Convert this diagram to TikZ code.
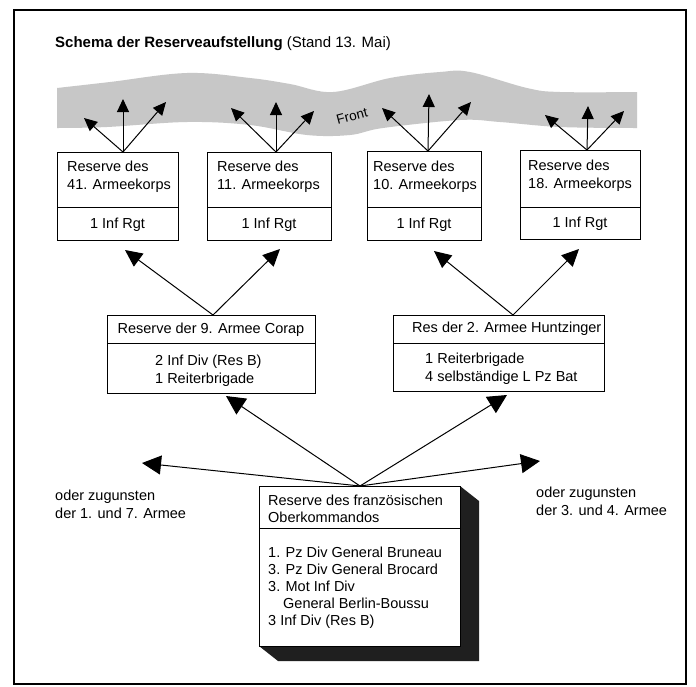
\documentclass[tikz,border=0pt]{standalone}
\usepackage{fontspec}
\setmainfont{Liberation Sans}
\usetikzlibrary{arrows.meta}
\begin{document}
\begin{tikzpicture}[x=1pt,y=-1pt,
  box/.style={draw, line width=1.1pt, rectangle, inner sep=0pt, fill=white, anchor=north west},
  txt/.style={font=\fontsize{14.5}{17.5}\selectfont, inner sep=0pt, anchor=base west},
  ctxt/.style={font=\fontsize{14.5}{17.5}\selectfont, inner sep=0pt, anchor=base},
  divider/.style={line width=1pt},
  smallarr/.style={line width=1pt, -{Triangle[length=13pt,width=12pt]}},
  midarr/.style={line width=1pt, -{Triangle[length=17pt,width=16pt]}},
  bigarr/.style={line width=1pt, -{Triangle[length=19pt,width=19pt]}},
]
\useasboundingbox (0,0) rectangle (696,686);
\fill[white] (0,0) rectangle (696,686);
\draw[line width=1.2pt] (14,10) rectangle (686,684);

% title
\node[anchor=base west, inner sep=0pt, font=\fontsize{15}{18}\selectfont] (title) at (55,47)
  {\textbf{Schema der Reserveaufstellung} (Stand 13. Mai)};

% front band
\fill[black!22] plot[smooth, tension=0.6] coordinates {(57,88) (110,82) (187,73) (250,78) (290,84) (333,92) (390,78) (440,72) (470,72) (527,88) (560,92) (637,92)}
  -- plot[smooth, tension=0.6] coordinates {(637,128) (560,127) (500,122) (460,120) (383,128) (350,135) (307,135) (250,125) (187,122) (107,127) (57,128)} -- cycle;
\node[rotate=15, inner sep=0pt, font=\fontsize{13.5}{16}\selectfont] (front) at (352,116) {Front};

% top row boxes
\node[box, minimum width=121pt, minimum height=88pt] (k41) at (57,152) {};
\node[box, minimum width=124pt, minimum height=88pt] (k11) at (207,152) {};
\node[box, minimum width=114pt, minimum height=89pt] (k10) at (367,151) {};
\node[box, minimum width=120pt, minimum height=89pt] (k18) at (520,150) {};
\foreach \b in {k41,k11,k10,k18} \draw[divider] (\b.west |- 0,207) -- (\b.east |- 0,207);

\node[txt] (k41a) at (67,171.5) {Reserve des};
\node[txt] (k41b) at (67,189.5) {41. Armeekorps};
\node[ctxt] (k41c) at (117.5,228) {1 Inf Rgt};
\node[txt] (k11a) at (217,171.5) {Reserve des};
\node[txt] (k11b) at (217,189.5) {11. Armeekorps};
\node[ctxt] (k11c) at (269,228) {1 Inf Rgt};
\node[txt] (k10a) at (373,171) {Reserve des};
\node[txt] (k10b) at (373,189) {10. Armeekorps};
\node[ctxt] (k10c) at (424,228) {1 Inf Rgt};
\node[txt] (k18a) at (528,170) {Reserve des};
\node[txt] (k18b) at (528,188) {18. Armeekorps};
\node[ctxt] (k18c) at (580,227) {1 Inf Rgt};

% arrows to the front
\coordinate (a41) at (123,152);
\coordinate (a11) at (276,152);
\coordinate (a10) at (428,151);
\coordinate (a18) at (587,150);
\coordinate (f1) at (84,118); \coordinate (f2) at (123,99); \coordinate (f3) at (166,102);
\coordinate (f4) at (231,108); \coordinate (f5) at (276,102); \coordinate (f6) at (314,111);
\coordinate (f7) at (382,108); \coordinate (f8) at (429,94); \coordinate (f9) at (471,102);
\coordinate (f10) at (545,115); \coordinate (f11) at (588,106); \coordinate (f12) at (624,111);
\foreach \s/\t in {a41/f1,a41/f2,a41/f3,a11/f4,a11/f5,a11/f6,a10/f7,a10/f8,a10/f9,a18/f10,a18/f11,a18/f12}
  \draw[smallarr] (\s) -- (\t);

% middle boxes
\node[box, minimum width=208pt, minimum height=78pt] (a9) at (107,315) {};
\node[box, minimum width=211pt, minimum height=76pt] (a2) at (393,315) {};
\draw[divider] (a9.west |- 0,343) -- (a9.east |- 0,343);
\draw[divider] (a2.west |- 0,343) -- (a2.east |- 0,343);
\node[ctxt] (a9a) at (211,333) {Reserve der 9. Armee Corap};
\node[txt] (a9b) at (155,365) {2 Inf Div (Res B)};
\node[txt] (a9c) at (155,383) {1 Reiterbrigade};
\node[txt] (a2a) at (412,332) {Res der 2. Armee Huntzinger};
\node[txt] (a2b) at (425,363) {1 Reiterbrigade};
\node[txt] (a2c) at (425,381) {4 selbständige L Pz Bat};

\coordinate (m9) at (213,315);
\coordinate (m2) at (513,315);
\coordinate (t41) at (125,250);
\coordinate (t11) at (280,249);
\coordinate (t10) at (434,251);
\coordinate (t18) at (579,249);
\draw[midarr] (m9) -- (t41);
\draw[midarr] (m9) -- (t11);
\draw[midarr] (m2) -- (t10);
\draw[midarr] (m2) -- (t18);

% bottom box with shadow
\fill[black!88] (460,486) -- (479,501) -- (479,661) -- (278,661) -- (259,646) -- (460,646) -- cycle;
\node[box, minimum width=201pt, minimum height=160pt] (ok) at (259,486) {};
\draw[divider] (ok.west |- 0,528) -- (ok.east |- 0,528);
\node[txt] (oka) at (268,505) {Reserve des französischen};
\node[txt] (okb) at (268,522) {Oberkommandos};
\node[txt] (ok1) at (268,557) {1. Pz Div General Bruneau};
\node[txt] (ok2) at (268,574) {3. Pz Div General Brocard};
\node[txt] (ok3) at (268,591) {3. Mot Inf Div};
\node[txt] (ok4) at (283,608) {General Berlin-Boussu};
\node[txt] (ok5) at (268,625) {3 Inf Div (Res B)};

\coordinate (o) at (360,486);
\coordinate (bl) at (142,463);
\coordinate (br) at (540,461);
\coordinate (b9) at (226,396);
\coordinate (b2) at (507,395);
\draw[bigarr] (o) -- (bl);
\draw[bigarr] (o) -- (br);
\draw[bigarr] (o) -- (b9);
\draw[bigarr] (o) -- (b2);

\node[txt] (l1) at (55,500) {oder zugunsten};
\node[txt] (l2) at (55,518) {der 1. und 7. Armee};
\node[txt] (r1) at (536,497) {oder zugunsten};
\node[txt] (r2) at (536,515) {der 3. und 4. Armee};
\end{tikzpicture}
\end{document}
